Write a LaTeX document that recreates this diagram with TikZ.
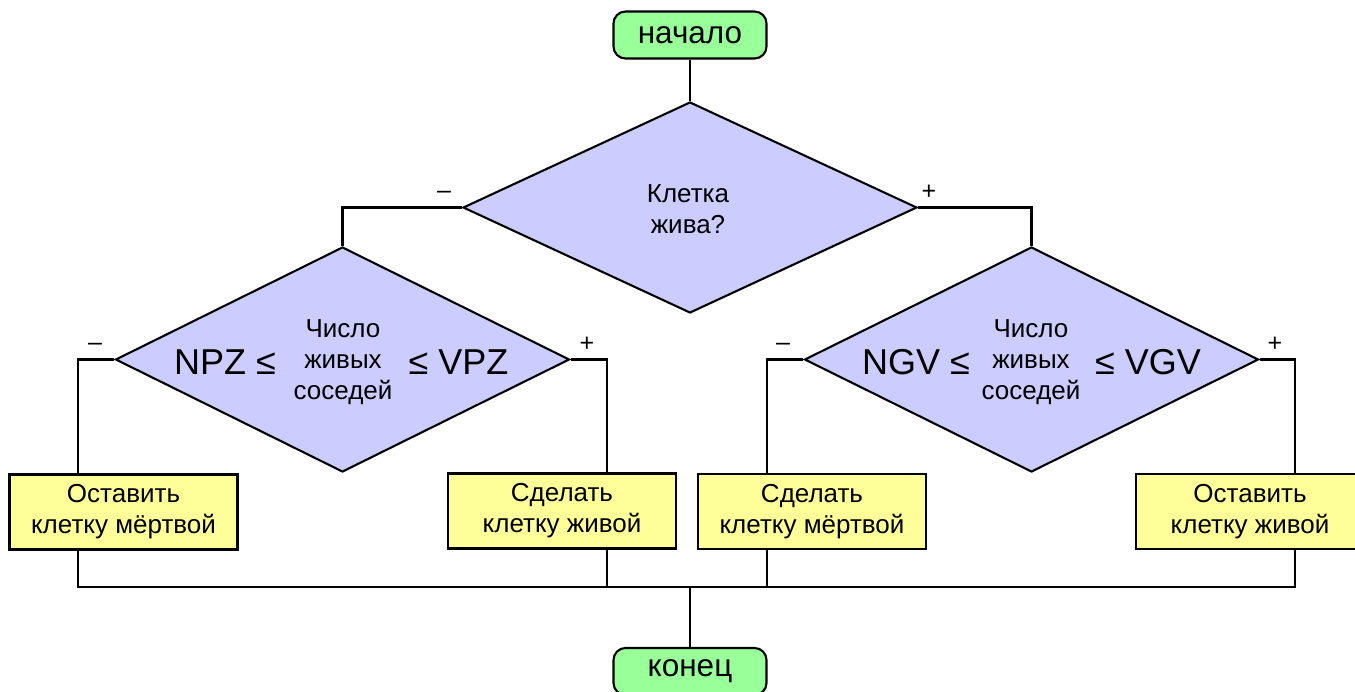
\documentclass[tikz,border=0pt]{standalone}
\usepackage{fontspec}
\setmainfont{Liberation Sans}
\usetikzlibrary{shapes.geometric}
\definecolor{termgreen}{RGB}{153,255,153}
\definecolor{decblue}{RGB}{204,204,255}
\definecolor{actyellow}{RGB}{255,255,153}
\begin{document}
\begin{tikzpicture}[x=1pt,y=-1pt,line width=2.1pt,
  term/.style={rectangle,rounded corners=12pt,draw,fill=termgreen,minimum width=153pt,minimum height=47pt,inner sep=0pt,font=\fontsize{31.5}{36}\selectfont},
  decision/.style={diamond,draw,fill=decblue,minimum width=454pt,inner sep=0pt},
  action/.style={rectangle,draw,fill=actyellow,minimum width=228pt,minimum height=75pt,inner sep=0pt,align=center,font=\fontsize{26}{31}\selectfont},
  txt/.style={inner sep=0pt,align=center,font=\fontsize{26}{31}\selectfont},
  bigtxt/.style={inner sep=0pt,anchor=base,font=\fontsize{36}{40}\selectfont},
  sign/.style={inner sep=0pt,font=\fontsize{25}{28}\selectfont}]
\useasboundingbox (0,0) rectangle (1355,691);
\clip (0,0) rectangle (1355,691);
% nodes
\node[term] (start) at (690,35) {начало};
\node[decision,minimum height=211pt] (d1) at (690,207.5) {};
\node[decision,minimum height=225pt] (d2) at (342.5,359.5) {};
\node[decision,minimum height=225pt] (d3) at (1031.5,359.5) {};
\node[action] (b1) at (123.5,512) {Оставить\\клетку мёртвой};
\node[action] (b2) at (562,511) {Сделать\\клетку живой};
\node[action] (b3) at (812,511.5) {Сделать\\клетку мёртвой};
\node[action] (b4) at (1250,511.5) {Оставить\\клетку живой};
\node[term] (end) at (690,671.5) {конец};
% texts inside decisions
\node[txt] (t1) at (688,209) {Клетка\\жива?};
\node[bigtxt] (t2a) at (225,374) {NPZ ≤};
\node[txt] (t2b) at (343,362) {Число\\живых\\соседей};
\node[bigtxt] (t2c) at (458.5,374) {≤ VPZ};
\node[bigtxt] (t3a) at (916,374) {NGV ≤};
\node[txt] (t3b) at (1031,362) {Число\\живых\\соседей};
\node[bigtxt] (t3c) at (1148,374) {≤ VGV};
% branch signs
\node[sign] (s1m) at (444,195) {–};
\node[sign] (s1p) at (929,192) {+};
\node[sign] (s2m) at (95,347) {–};
\node[sign] (s2p) at (587,344) {+};
\node[sign] (s3m) at (783,347) {–};
\node[sign] (s3p) at (1275,344) {+};
% helper coordinates
\coordinate (x1) at (78,0);
\coordinate (x2) at (607,0);
\coordinate (x3) at (767,0);
\coordinate (x4) at (1295,0);
\coordinate (bus) at (690,587);
% connectors
\draw (start) -- (d1.north);
\draw (d1.west) -| (d2.north);
\draw (d1.east) -| (d3.north);
\draw (d2.west) -| (b1.north -| x1);
\draw (d2.east) -| (b2.north -| x2);
\draw (d3.west) -| (b3.north -| x3);
\draw (d3.east) -| (b4.north -| x4);
\draw (b1.south -| x1) |- (bus);
\draw (b2.south -| x2) |- (bus);
\draw (b3.south -| x3) |- (bus);
\draw (b4.south -| x4) |- (bus);
\draw (bus) -- (end);
\end{tikzpicture}
\end{document}
